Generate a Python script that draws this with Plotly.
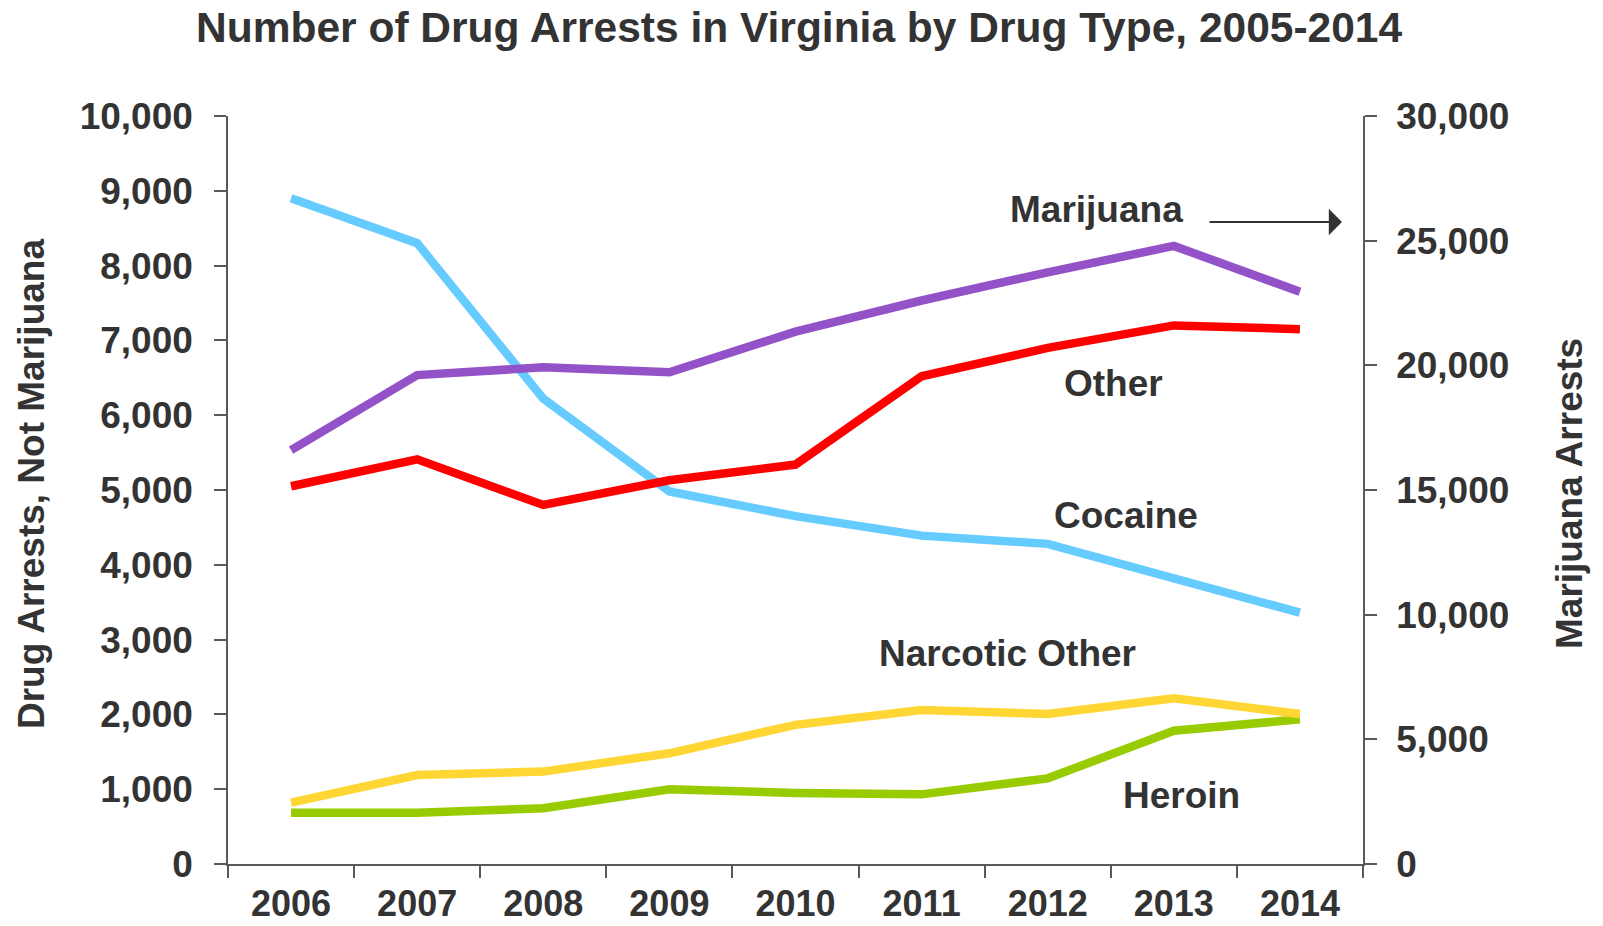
import plotly.graph_objects as go

years = ["2006", "2007", "2008", "2009", "2010", "2011", "2012", "2013", "2014"]
cocaine = [8900, 8300, 6220, 4980, 4650, 4390, 4280, 3830, 3360]
other = [5050, 5410, 4800, 5130, 5340, 6520, 6900, 7200, 7150]
marijuana = [16600, 19610, 19920, 19720, 21350, 22600, 23730, 24790, 22950]
narcotic_other = [820, 1190, 1235, 1480, 1860, 2060, 2005, 2215, 2005]
heroin = [686, 686, 745, 1000, 950, 931, 1145, 1782, 1934]

FONT = "Liberation Sans, Arial, sans-serif"
TXT = "#333333"
AX = "#595959"
LW = 8.5

fig = go.Figure()
fig.add_trace(go.Scatter(x=years, y=cocaine, mode="lines", name="Cocaine",
                         line=dict(color="#66CCFF", width=LW)))
fig.add_trace(go.Scatter(x=years, y=heroin, mode="lines", name="Heroin",
                         line=dict(color="#99CC00", width=LW)))
fig.add_trace(go.Scatter(x=years, y=narcotic_other, mode="lines", name="Narcotic Other",
                         line=dict(color="#FFD633", width=LW)))
fig.add_trace(go.Scatter(x=years, y=other, mode="lines", name="Other",
                         line=dict(color="#FF0000", width=LW)))
fig.add_trace(go.Scatter(x=years, y=marijuana, mode="lines", name="Marijuana",
                         yaxis="y2", line=dict(color="#9452C8", width=LW)))

tickfont = dict(family=FONT, size=37, color=TXT, weight="bold")
xtickfont = dict(family=FONT, size=36, color=TXT, weight="bold")
labfont = dict(family=FONT, size=37, color=TXT, weight="bold")

fig.update_layout(
    width=1603, height=926,
    margin=dict(l=228, r=240, t=116, b=62),
    paper_bgcolor="white", plot_bgcolor="white",
    showlegend=False,
    title=dict(text="Number of Drug Arrests in Virginia by Drug Type, 2005-2014",
               x=0.4985, xanchor="center", yref="container", y=1 - 27 / 926, yanchor="middle",
               font=dict(family=FONT, size=42.5, color=TXT, weight="bold")),
    xaxis=dict(type="category", range=[-0.5, 8.5], tickson="boundaries", ticks="outside",
               ticklen=12, tickwidth=1.5, tickcolor=AX, showline=True, linecolor=AX,
               linewidth=1.5, showgrid=False, zeroline=False, tickfont=xtickfont,
               ticklabelstandoff=7, automargin=False),
    yaxis=dict(range=[0, 10000], dtick=1000, tickformat=",", ticks="outside", ticklen=12,
               tickwidth=1.5, tickcolor=AX, showline=True, linecolor=AX, linewidth=1.5,
               showgrid=False, zeroline=False, tickfont=tickfont, ticklabelstandoff=14,
               automargin=False),
    yaxis2=dict(range=[0, 30000], dtick=5000, tickformat=",", overlaying="y", side="right",
                ticks="outside", ticklen=12, tickwidth=1.5, tickcolor=AX, showline=True,
                linecolor=AX, linewidth=1.5, showgrid=False, zeroline=False,
                tickfont=tickfont, ticklabelstandoff=12, automargin=False),
)

def px_x(px):
    return (px - 228) / 1135

def px_y(py):
    return (864 - py) / 748

annotations = [
    dict(text="Drug Arrests, Not Marijuana", x=px_x(31), y=px_y(484), textangle=-90),
    dict(text="Marijuana Arrests", x=px_x(1569), y=px_y(494), textangle=-90),
    dict(text="Marijuana", x=px_x(1096), y=px_y(210)),
    dict(text="Other", x=px_x(1113), y=px_y(383)),
    dict(text="Cocaine", x=px_x(1126), y=px_y(515)),
    dict(text="Narcotic Other", x=px_x(1007), y=px_y(653)),
    dict(text="Heroin", x=px_x(1181), y=px_y(795)),
]
for a in annotations:
    fig.add_annotation(xref="paper", yref="paper", showarrow=False,
                       xanchor="center", yanchor="middle", font=labfont, **a)

fig.add_annotation(xref="paper", yref="paper", x=px_x(1342), y=px_y(222),
                   axref="pixel", ayref="pixel", ax=-134, ay=0, text="",
                   showarrow=True, arrowhead=1, arrowsize=2.2, arrowwidth=2,
                   arrowcolor="#333333")

fig.write_html("out.html")
